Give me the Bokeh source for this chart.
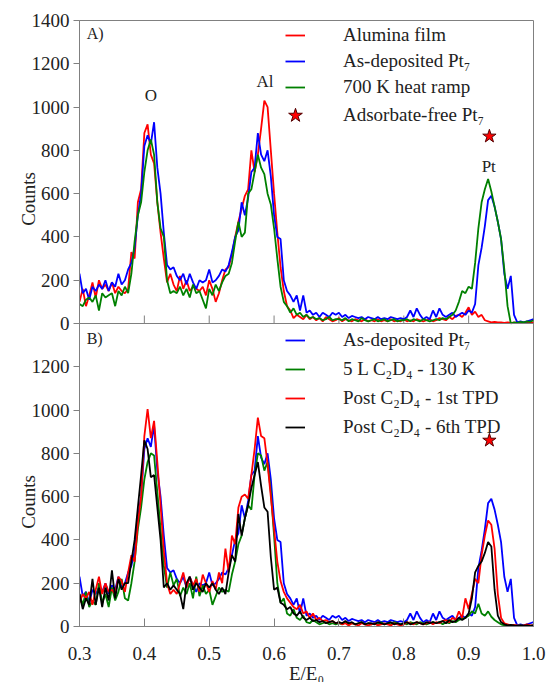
import numpy as np
from bokeh.plotting import figure
from bokeh.models import (Legend, LegendItem, FixedTicker, Range1d, Label,
                          Span, LinearAxis, NumeralTickFormatter)
from bokeh.embed import file_html
from bokeh.resources import INLINE

# E/E0 grid (0.300 .. 1.000, step 0.005)
energy = np.round(0.3 + 0.005 * np.arange(141), 3)

# ---- Panel A ----
alumina_film = [
    100, 160, 80, 130, 190, 120, 200, 160, 180, 150,
    190, 140, 170, 150, 140, 160, 330, 300, 560, 620,
    880, 920, 780, 740, 560, 420, 300, 190, 230, 180,
    150, 220, 160, 200, 150, 170, 160, 150, 170, 130,
    200, 160, 100, 140, 200, 250, 260, 320, 400, 470,
    530, 590, 620, 800, 700, 780, 900, 1030, 1000, 800,
    600, 420, 260, 150, 80, 60, 25, 40, 30, 20,
    40, 20, 30, 15, 25, 10, 30, 20, 10, 15,
    25, 10, 20, 15, 10, 20, 15, 10, 20, 10,
    15, 10, 20, 10, 15, 10, 20, 10, 15, 10,
    20, 10, 15, 10, 20, 15, 10, 15, 20, 10,
    15, 25, 20, 15, 30, 20, 35, 40, 30, 50,
    75, 40, 55, 30, 40, 15, 10, 5, 8, 5,
    5, 3, 5, 3, 4, 5, 3, 4, 5, 3,
    5,
]

as_deposited = [
    230, 140, 160, 110, 170, 150, 180, 160, 200, 150,
    190, 170, 230, 180, 200, 250, 280, 350, 500, 600,
    820, 870, 830, 930, 720, 600, 420, 270, 250, 260,
    220, 200, 230, 180, 230, 190, 160, 200, 190, 200,
    250, 190, 200, 220, 250, 240, 270, 330, 400, 430,
    560, 500, 580, 700, 720, 880, 780, 750, 800, 680,
    500, 400, 390, 200, 150, 130, 100, 130, 60, 130,
    50, 60, 40, 50, 30, 50, 40, 30, 50, 40,
    50, 30, 40, 25, 35, 30, 25, 30, 20, 30,
    25, 20, 30, 20, 25, 20, 30, 25, 20, 25,
    20, 30, 60, 30, 70, 40, 20, 30, 20, 60,
    30, 70, 40, 30, 40, 50, 30, 40, 50, 40,
    60, 50, 90, 270, 350, 450, 570, 590, 540, 470,
    390, 230, 160, 220, 40, 5, 10, 5, 10, 15,
    20,
]

heat_ramp_700K = [
    90, 80, 110, 120, 100, 130, 60, 140, 120, 130,
    140, 80, 150, 130, 170, 140, 230, 380, 500, 560,
    700, 800, 850, 780, 560, 440, 400, 200, 140, 150,
    140, 170, 130, 160, 120, 180, 140, 150, 110, 70,
    160, 130, 180, 150, 190, 220, 230, 280, 380, 470,
    400, 420, 600, 620, 700, 780, 720, 690, 600, 550,
    440, 300, 170, 100, 80, 50, 70, 40, 50, 30,
    40, 25, 30, 20, 25, 15, 20, 30, 15, 20,
    20, 15, 25, 10, 20, 15, 10, 25, 15, 10,
    15, 20, 10, 15, 20, 10, 15, 20, 10, 15,
    15, 20, 10, 20, 15, 10, 20, 15, 10, 15,
    20, 15, 25, 20, 30, 40, 60, 100, 150, 140,
    170, 160, 280, 440, 560, 620, 668, 610, 540, 470,
    390, 250, 80, 0, 5, 3, 8, 5, 10, 8,
    15,
]

# ---- Panel B ----
c2d4_130K = [
    150, 100, 160, 90, 120, 100, 200, 110, 150, 90,
    180, 120, 160, 220, 130, 120, 200, 300, 450, 550,
    680, 760, 800, 790, 620, 450, 280, 180, 250, 190,
    220, 140, 180, 150, 200, 130, 230, 140, 190, 150,
    170, 100, 140, 180, 160, 170, 160, 240, 300, 380,
    420, 500, 560, 540, 700, 800, 790, 720, 760, 620,
    420, 200, 110, 130, 60, 50, 80, 40, 30, 50,
    20, 15, 30, 20, 10, 15, 20, 10, 15, 10,
    15, 10, 20, 10, 15, 10, 15, 20, 10, 15,
    10, 15, 10, 20, 10, 15, 10, 20, 15, 10,
    15, 10, 20, 15, 10, 20, 15, 10, 15, 20,
    15, 20, 10, 20, 15, 25, 20, 30, 35, 40,
    50, 70, 60, 105, 60, 50, 70, 45, 30, 20,
    10, 5, 3, 5, 3, 4, 5, 3, 5, 4,
    5,
]

post_tpd_1st = [
    110, 150, 130, 160, 100, 170, 230, 150, 200, 160,
    170, 150, 230, 210, 160, 250, 330, 300, 480, 600,
    880, 1005, 870, 950, 760, 560, 350, 200, 150, 170,
    150, 200, 250, 180, 230, 190, 220, 160, 240, 200,
    160, 210, 170, 250, 200, 360, 250, 420, 380, 550,
    600, 610, 590, 700, 820, 965, 880, 870, 750, 600,
    450, 300, 210, 160, 130, 110, 90, 80, 100, 60,
    70, 40, 60, 30, 40, 25, 30, 20, 25, 15,
    20, 10, 15, 5, 15, 10, 5, 15, 10, 5,
    10, 15, 5, 10, 15, 10, 5, 15, 10, 5,
    10, 20, 15, 10, 20, 15, 10, 15, 20, 10,
    20, 15, 25, 30, 20, 40, 30, 70, 40, 130,
    80, 150, 220, 200, 330, 420, 490, 470, 360, 150,
    40, 15, 10, 5, 8, 5, 3, 5, 10, 5,
    5,
]

post_tpd_6th = [
    150, 80, 130, 100, 220, 100, 180, 90, 180, 120,
    260, 130, 220, 170, 200, 200, 300, 400, 550, 700,
    860, 820, 690, 700, 550, 400, 180, 200, 170, 190,
    170, 150, 80, 200, 230, 170, 200, 180, 160, 200,
    180, 200, 170, 150, 180, 150, 250, 330, 300, 520,
    420, 500, 560, 640, 700, 760, 650, 550, 530, 320,
    170, 180, 110, 100, 80, 90, 60, 50, 70, 40,
    30, 40, 25, 30, 20, 25, 15, 20, 25, 15,
    20, 15, 25, 15, 20, 10, 15, 20, 10, 15,
    15, 10, 20, 15, 10, 15, 20, 10, 15, 10,
    15, 20, 10, 15, 20, 15, 10, 20, 15, 20,
    15, 20, 25, 15, 30, 20, 25, 40, 30, 40,
    60, 130, 250, 280, 300, 340, 390, 370, 170, 50,
    20, 10, 5, 8, 5, 3, 5, 4, 5, 3,
    5,
]

star_x = [0.932]
star_y_a = [865]
star_y_b = [860]

yticks_a = [0, 200, 400, 600, 800, 1000, 1200, 1400]
yticks_b = [0, 200, 400, 600, 800, 1000, 1200]
xticks = [0.3, 0.4, 0.5, 0.6, 0.7, 0.8, 0.9, 1.0]

FONT = "Liberation Serif"
GRAY = "#808080"
TXT = "#222222"
RED, BLUE, GREEN, BLACK = "#ff0000", "#0000ff", "#008000", "#000000"
LW = 1.8
PANEL = 1400          # each panel spans 0..1400 counts
FRAME_H = 606         # two stacked panels of 303 px

# One frame, two stacked panels: panel B uses the main range (lower half),
# panel A uses range "a" whose zero sits at the panel boundary.
p = figure(frame_width=454, frame_height=FRAME_H,
           x_range=Range1d(0.3, 1.0), y_range=Range1d(0, 2 * PANEL),
           output_backend="svg", toolbar_location=None,
           min_border_left=79, min_border_right=14,
           min_border_top=20, min_border_bottom=56)
p.extra_y_ranges = {"a": Range1d(-PANEL, PANEL)}
p.grid.visible = False
p.outline_line_color = GRAY
p.border_fill_color = "white"

# shared left axis: lower labels for panel B, upper labels for panel A
yax = p.yaxis[0]
yax.ticker = FixedTicker(ticks=yticks_b + [t + PANEL for t in yticks_a])
yax.major_label_overrides = {t + PANEL: str(t) for t in yticks_a}
yax.major_tick_out = 6
yax.major_tick_in = 0
yax.major_label_standoff = 4
xax = p.xaxis[0]
xax.ticker = FixedTicker(ticks=xticks)
xax.formatter = NumeralTickFormatter(format="0.0")
xax.major_tick_out = 0
xax.major_tick_in = 8
xax.major_label_standoff = 20
xax.axis_label = "E/E\u2080"
xax.axis_label_standoff = 0

# outer left axis carrying one "Counts" title per panel
title_ax = LinearAxis(ticker=FixedTicker(ticks=[PANEL // 2, PANEL + PANEL // 2]),
                      major_label_overrides={PANEL // 2: "Counts",
                                             PANEL + PANEL // 2: "Counts"},
                      major_label_orientation=np.pi / 2,
                      axis_line_color=None, major_tick_line_color=None,
                      major_tick_in=0, major_tick_out=0,
                      major_label_standoff=0)
p.add_layout(title_ax, "left")

for ax in (xax, yax, title_ax):
    if ax is not title_ax:
        ax.axis_line_color = GRAY
        ax.major_tick_line_color = GRAY
    ax.minor_tick_line_color = None
    ax.major_label_text_font = FONT
    ax.major_label_text_font_size = "19px"
    ax.major_label_text_color = TXT
    ax.axis_label_text_font = FONT
    ax.axis_label_text_font_size = "19px"
    ax.axis_label_text_font_style = "normal"
    ax.axis_label_text_color = TXT

# boundary between panels = panel A's bottom axis, with inward ticks
p.add_layout(Span(location=0, dimension="width", y_range_name="a",
                  line_color=GRAY, line_width=1))
tick_len = 8 * PANEL / (FRAME_H / 2)
p.segment(x0=xticks, y0=[0] * len(xticks), x1=xticks,
          y1=[tick_len] * len(xticks), y_range_name="a",
          line_color=GRAY, line_width=1)

# ---- Panel A curves ----
ra = p.line(energy, alumina_film, color=RED, line_width=LW, y_range_name="a")
ba = p.line(energy, as_deposited, color=BLUE, line_width=LW, y_range_name="a")
ga = p.line(energy, heat_ramp_700K, color=GREEN, line_width=LW,
            y_range_name="a")
sa = p.scatter(star_x, star_y_a, marker="star", size=14, fill_color=RED,
               line_color="#550000", line_width=1, y_range_name="a")

# ---- Panel B curves ----
bb = p.line(energy, as_deposited, color=BLUE, line_width=LW)
gb = p.line(energy, c2d4_130K, color=GREEN, line_width=LW)
rb = p.line(energy, post_tpd_1st, color=RED, line_width=LW)
kb = p.line(energy, post_tpd_6th, color=BLACK, line_width=LW)
p.scatter(star_x, star_y_b, marker="star", size=14, fill_color=RED,
          line_color="#550000", line_width=1)


def add_legend(items, loc, spacing, gw=20, gh=20, standoff=38):
    lg = Legend(items=items, location=loc, border_line_color=None,
                background_fill_alpha=0, padding=0, margin=0,
                spacing=spacing, glyph_width=gw, glyph_height=gh,
                label_height=20, label_standoff=standoff,
                label_text_font=FONT, label_text_font_size="19px",
                label_text_color=TXT)
    p.add_layout(lg, "center")


add_legend([
    LegendItem(label="Alumina film", renderers=[ra]),
    LegendItem(label="As-deposited Pt\u2087", renderers=[ba]),
    LegendItem(label="700 K heat ramp", renderers=[ga]),
], (206, 528), 4)
add_legend([LegendItem(label="Adsorbate-free Pt\u2087", renderers=[sa])],
           (198, 493), 0, gw=36, gh=36, standoff=30)
add_legend([
    LegendItem(label="As-deposited Pt\u2087", renderers=[bb]),
    LegendItem(label="5 L C\u2082D\u2084 - 130 K", renderers=[gb]),
    LegendItem(label="Post C\u2082D\u2084 - 1st TPD", renderers=[rb]),
    LegendItem(label="Post C\u2082D\u2084 - 6th TPD", renderers=[kb]),
], (206, 188), 7)

# ---- texts inside the panels ----
for txt, xx, yy, size, align in [("A)", 0.311, 1340, "16px", "left"),
                                  ("O", 0.41, 1055, "17px", "center"),
                                  ("Al", 0.586, 1120, "17px", "center"),
                                  ("Pt", 0.931, 725, "17px", "center")]:
    p.add_layout(Label(x=xx, y=yy, text=txt, text_font=FONT,
                       text_font_size=size, text_align=align,
                       text_baseline="middle", text_color=TXT,
                       y_range_name="a"))
p.add_layout(Label(x=0.311, y=1330, text="B)", text_font=FONT,
                   text_font_size="16px", text_align="left",
                   text_baseline="middle", text_color=TXT))

open("out.html", "w").write(file_html(p, INLINE))
